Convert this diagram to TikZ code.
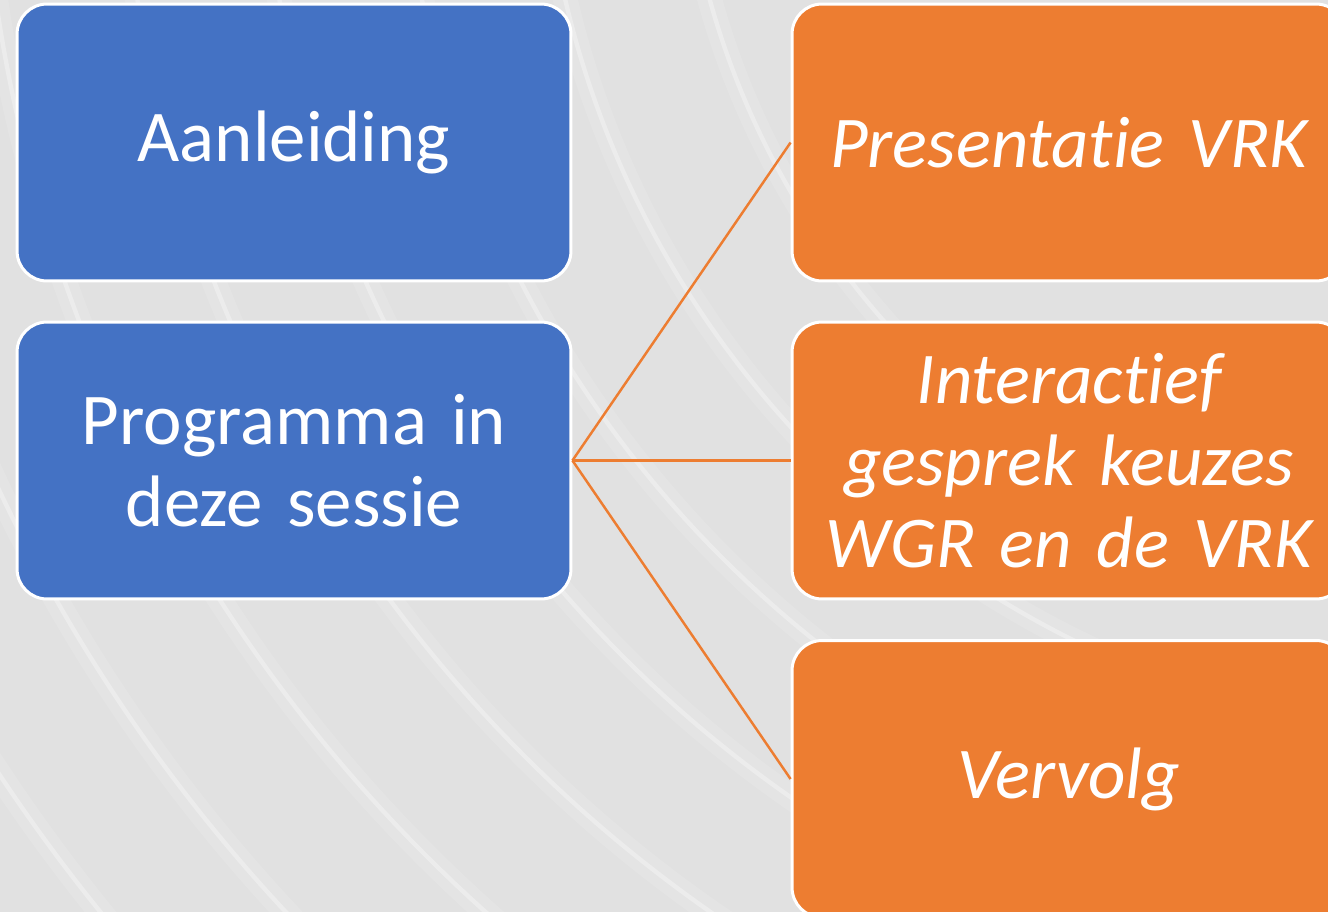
\documentclass[tikz,border=0pt]{standalone}
\usepackage{fontspec}
\setmainfont[RawFeature=-liga]{Carlito}
\usepackage{tikz}
\usetikzlibrary{positioning}
\definecolor{slide}{RGB}{225,225,225}
\definecolor{B}{RGB}{68,114,196}
\definecolor{O}{RGB}{237,125,49}
\newcommand{\slidetext}{\fontsize{41.5}{46.5}\selectfont}
\newcommand{\drawarcs}[1]{
    \foreach \r in {#1}{
    \draw[white, opacity=.12, line width=14pt] (1500,-220) circle[radius=\r];
    \draw[white, opacity=.3, line width=2.5pt] (1500,-220) circle[radius=\r];
    }
}
\tikzset{
  card/.style={draw=white, line width=1.7pt, rounded corners=0.6cm, text=white,
    minimum width=11.08cm, minimum height=5.54cm, text width=10.4cm, align=center,
    inner sep=0pt, font=\slidetext},
  bluecard/.style={card, fill=B},
  orangecard/.style={card, fill=O, font=\slidetext\itshape},
  link/.style={draw=O, line width=1.4pt}
}

\begin{document}
\begin{tikzpicture}[x=0.02cm, y=-0.02cm]
\useasboundingbox (0,0) rectangle (1328,912);
\begin{scope}
  \clip (0,0) rectangle (1328,912);
  \fill[slide] (0,0) rectangle (1328,912);
  \drawarcs{820,960,1100,1240,1380,1520,1660,1800,1940}
  \node[bluecard] (aanl) at (294,142.5) {Aanleiding};
  \node[bluecard] (progr) at (294,460.5) {Programma in\\deze sessie};
  \node[orangecard] (pres) at (1069,142.5) {Presentatie VRK};
  \node[orangecard] (inter) at (1069,460.5) {Interactief\\gesprek keuzes\\WGR en de VRK};
  \node[orangecard] (verv) at (1069,779) {Vervolg};
  \foreach \t in {pres,inter,verv}{
    \draw[link] (progr.east) -- (\t.west);
  }
\end{scope}
\end{tikzpicture}
\end{document}
